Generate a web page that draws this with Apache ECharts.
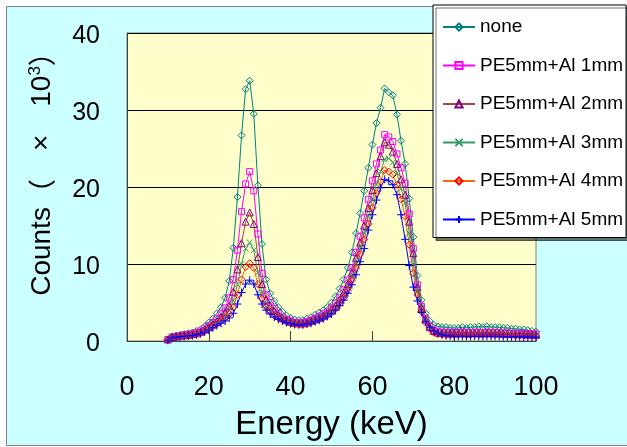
<!DOCTYPE html>
<html><head><meta charset="utf-8">
<script src="https://cdn.jsdelivr.net/npm/echarts@6/dist/echarts.min.js"></script>
<style>html,body{margin:0;padding:0;background:#fff}#c{width:627px;height:447px}</style>
</head><body><div id="c"></div>
<script>
const energies = [10,11,12,13,14,15,16,17,18,19,20,21,22,23,24,25,26,27,28,29,30,31,32,33,34,35,36,37,38,39,40,41,42,43,44,45,46,47,48,49,50,51,52,53,54,55,56,57,58,59,60,61,62,63,64,65,66,67,68,69,70,71,72,73,74,75,76,77,78,79,80,81,82,83,84,85,86,87,88,89,90,91,92,93,94,95,96,97,98,99,100];
const seriesNames = ['none','PE5mm+Al 1mm','PE5mm+Al 2mm','PE5mm+Al 3mm','PE5mm+Al 4mm','PE5mm+Al 5mm'];
const none = [0.2,0.6,0.7,0.8,0.9,1.0,1.1,1.3,1.5,1.9,
2.4,2.9,3.6,4.4,5.6,7.8,12.1,18.7,26.7,32.7,
33.8,29.5,20.2,12.6,8.0,6.2,5.2,4.4,3.8,3.3,
3.0,2.8,2.7,2.7,2.9,3.1,3.4,3.7,4.0,4.4,
5.0,5.8,6.8,8.0,9.5,11.5,14.0,16.6,19.5,22.5,
25.5,28.3,30.3,32.8,32.3,31.9,29.4,26.0,23.0,18.5,
13.5,8.5,5.3,3.6,2.6,2.1,1.9,1.8,1.8,1.7,
1.7,1.7,1.8,1.7,1.8,1.8,1.9,1.8,1.9,1.8,
1.8,1.8,1.7,1.7,1.6,1.6,1.5,1.5,1.4,1.3,
1.2];
const al1 = [0.2,0.5,0.6,0.7,0.8,0.85,0.95,1.1,1.3,1.6,
2.0,2.4,2.9,3.5,4.3,5.6,8.0,11.8,16.8,20.4,
22.0,19.5,13.9,8.8,6.0,5.0,4.2,3.6,3.1,2.8,
2.6,2.4,2.35,2.4,2.5,2.7,2.9,3.2,3.5,3.8,
4.3,4.9,5.7,6.7,7.9,9.5,11.5,13.6,16.0,18.4,
20.8,23.0,24.8,26.8,26.5,25.9,24.3,22.5,20.5,16.5,
12.0,7.3,4.5,2.9,1.9,1.4,1.2,1.15,1.1,1.1,
1.1,1.1,1.15,1.1,1.1,1.15,1.1,1.1,1.15,1.1,
1.1,1.1,1.05,1.05,1.0,1.0,1.0,0.95,0.95,0.9,
0.9];
const al2 = [0.2,0.5,0.6,0.7,0.75,0.8,0.9,1.0,1.2,1.5,
1.8,2.2,2.6,3.1,3.7,4.6,6.4,9.3,12.7,15.5,
16.7,15.2,10.9,7.4,5.4,4.6,3.9,3.4,3.0,2.7,
2.5,2.35,2.3,2.3,2.4,2.6,2.8,3.0,3.3,3.6,
4.1,4.6,5.4,6.3,7.4,8.9,10.8,12.8,15.0,17.3,
19.6,21.8,24.0,25.8,25.5,24.6,23.0,21.0,19.0,15.5,
11.4,7.0,4.3,2.8,1.8,1.3,1.1,1.05,1.0,1.0,
1.0,1.0,1.05,1.0,1.0,1.05,1.0,1.0,1.05,1.0,
1.0,1.0,0.95,0.95,0.95,0.9,0.9,0.9,0.85,0.85,
0.8];
const al3 = [0.2,0.5,0.6,0.65,0.7,0.75,0.85,0.95,1.1,1.4,
1.7,2.0,2.4,2.8,3.3,4.0,5.2,7.3,10.0,12.0,
12.8,11.8,8.9,6.3,4.9,4.2,3.6,3.2,2.9,2.6,
2.4,2.3,2.25,2.25,2.35,2.5,2.7,2.9,3.2,3.5,
3.9,4.4,5.1,6.0,7.0,8.4,10.1,12.0,14.0,16.2,
18.4,20.4,22.0,23.6,23.7,23.2,21.8,19.8,17.9,14.0,
10.0,6.5,4.0,2.6,1.7,1.2,1.0,0.95,0.9,0.9,
0.9,0.9,0.95,0.9,0.9,0.95,0.9,0.9,0.95,0.9,
0.9,0.9,0.85,0.85,0.85,0.8,0.8,0.8,0.75,0.75,
0.7];
const al4 = [0.15,0.45,0.55,0.6,0.65,0.7,0.8,0.9,1.05,1.3,
1.6,1.9,2.2,2.6,3.0,3.5,4.4,6.0,8.0,9.6,
10.1,9.5,7.4,5.5,4.4,3.8,3.3,3.0,2.7,2.5,
2.3,2.2,2.15,2.15,2.25,2.4,2.6,2.8,3.0,3.3,
3.7,4.2,4.8,5.6,6.6,7.9,9.5,11.3,13.2,15.2,
17.3,19.2,20.7,22.2,22.0,21.6,20.3,18.4,16.2,12.5,
8.8,6.0,3.8,2.4,1.6,1.1,0.9,0.85,0.8,0.8,
0.8,0.8,0.85,0.8,0.8,0.85,0.8,0.8,0.85,0.8,
0.8,0.8,0.75,0.75,0.75,0.7,0.7,0.7,0.7,0.65,
0.65];
const al5 = [0.1,0.4,0.5,0.55,0.6,0.65,0.7,0.8,0.95,1.15,
1.4,1.7,2.0,2.3,2.6,3.0,3.6,4.8,6.3,7.4,
7.9,7.4,6.0,4.8,4.0,3.5,3.1,2.8,2.6,2.4,
2.25,2.15,2.1,2.1,2.2,2.3,2.5,2.7,2.9,3.2,
3.5,4.0,4.6,5.3,6.2,7.3,8.6,10.3,12.0,14.4,
16.4,18.3,19.9,21.0,20.8,20.3,19.0,16.4,13.2,9.8,
7.0,5.2,3.7,2.5,1.8,1.3,1.0,0.8,0.7,0.65,
0.6,0.6,0.6,0.6,0.6,0.6,0.6,0.6,0.6,0.6,
0.6,0.6,0.55,0.55,0.55,0.55,0.55,0.5,0.5,0.5,
0.5];
const xTicks = [0,20,40,60,80,100];
const yTicks = [0,10,20,30,40];

const values = [none, al1, al2, al3, al4, al5];
const styles = [
  {line:'#008080', mark:'#008080', symbol:'diamond', size:7, hollow:true},
  {line:'#ff00ff', mark:'#ff00ff', symbol:'rect', size:6, hollow:true},
  {line:'#a04848', mark:'#800080', symbol:'triangle', size:7, hollow:true},
  {line:'#339966', mark:'#339966', symbol:'path://M0,0L10,10M10,0L0,10', size:6, hollow:false},
  {line:'#ff6600', mark:'#ff0000', symbol:'diamond', size:7, hollow:true},
  {line:'#0000ff', mark:'#0000ff', symbol:'path://M5,0L5,10M0,5L10,5', size:8, hollow:false}
];
const font = "'Liberation Sans', Arial, sans-serif";
const cjk = "'Noto Sans CJK JP', sans-serif";
const chart = echarts.init(document.getElementById('c'), null, {renderer:'canvas'});
chart.setOption({
  backgroundColor:'#ffffff',
  animation:false,
  graphic:{elements:[{type:'rect', z:-100, silent:true, shape:{x:6.5,y:6.5,width:640,height:439}, style:{fill:'#ccffff', stroke:'#808080', lineWidth:1}}]},
  grid:{left:127, top:33, width:409, height:308, show:true, backgroundColor:'#ffffcc', borderColor:'#808080', borderWidth:1},
  legend:{
    orient:'vertical', left:433, top:5, padding:[12,3,8,9], itemGap:18.5, itemWidth:32, itemHeight:9,
    backgroundColor:'#ffffff', borderColor:'#000000', borderWidth:1,
    shadowColor:'rgba(0,0,0,0.55)', shadowOffsetX:3, shadowOffsetY:3, shadowBlur:0,
    textStyle:{fontFamily:font, fontSize:19, color:'#000', lineHeight:20},
    itemTextGap:5,
    data:seriesNames
  },
  xAxis:{type:'value', min:xTicks[0], max:xTicks[xTicks.length-1], interval:20,
    axisLine:{show:true, lineStyle:{color:'#404040', width:1}},
    axisTick:{show:true, inside:true, length:10, lineStyle:{color:'#404040'}},
    splitLine:{show:false},
    axisLabel:{fontFamily:font, fontSize:27, color:'#000', margin:33},
    name:'Energy (keV)', nameLocation:'middle', nameGap:67,
    nameTextStyle:{fontFamily:font, fontSize:33, color:'#000'}
  },
  yAxis:{type:'value', min:yTicks[0], max:yTicks[yTicks.length-1], interval:10,
    axisLine:{show:true, lineStyle:{color:'#404040', width:1}},
    axisTick:{show:false},
    splitLine:{show:true, lineStyle:{color:'#000000', width:1}},
    axisLabel:{fontFamily:font, fontSize:25, color:'#000', margin:27, verticalAlign:'top', lineHeight:6},
    name:'{a|Counts}{p|（}{a|\u3000×\u300010}{s|3}{p|）}', nameLocation:'middle', nameRotate:90, nameGap:70,
    nameTextStyle:{fontFamily:font, fontSize:28, color:'#000', padding:[0,0,0,40],
      rich:{
        a:{fontFamily:font, fontSize:28, color:'#000', lineHeight:30},
        p:{fontFamily:cjk, fontSize:28, color:'#000', lineHeight:30},
        s:{fontFamily:font, fontSize:17, color:'#000', verticalAlign:'top', lineHeight:30}
      }}
  },
  series: values.map((arr, i) => ({
    name: seriesNames[i], type:'line',
    data: arr.map((v, j) => [energies[j], v]),
    symbol: styles[i].symbol, symbolSize: styles[i].size, showAllSymbol:true,
    lineStyle:{color:styles[i].line, width:1},
    itemStyle:{color: styles[i].hollow ? 'rgba(0,0,0,0)' : styles[i].mark, borderColor:styles[i].mark, borderWidth:1},
    emphasis:{disabled:true}
  }))
});
</script></body></html>
